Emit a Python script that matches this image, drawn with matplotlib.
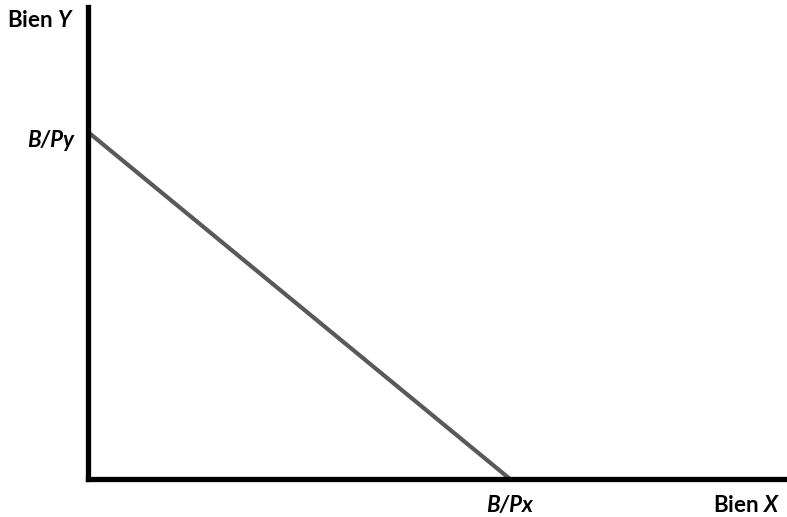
import matplotlib
matplotlib.use("Agg")
from matplotlib import pyplot as plt

# restricción presupuestaria: interceptos
bienes_x = [0, 10]   # de 0 a B/Px
bienes_y = [8, 0]    # de B/Py a 0
etiqueta_px = "B/Px"
etiqueta_py = "B/Py"

plt.rcParams['font.family'] = ['Lato', 'DejaVu Sans']
plt.rcParams['mathtext.fontset'] = 'custom'
plt.rcParams['mathtext.it'] = 'Lato:bold:italic'
plt.rcParams['mathtext.rm'] = 'Lato:bold'

fig = plt.figure(figsize=(7.87, 5.17), dpi=100)
W, H = 787, 517
ax = fig.add_axes([88 / W, (H - 479) / H, (W - 88) / W, (479 - 7) / H])

ax.plot(bienes_x, bienes_y, color='#595959', lw=3, solid_capstyle='butt', clip_on=False)

ax.set_xlim(0, 699 / 422 * 10)
ax.set_ylim(0, 472 / 347 * 8)

for s in ['top', 'right']:
    ax.spines[s].set_visible(False)
for s in ['left', 'bottom']:
    ax.spines[s].set_linewidth(3.8)
    ax.spines[s].set_color('black')
ax.set_xticks([])
ax.set_yticks([])

fs = 16
ax.text(-0.33, 10.56, r'Bien $\mathit{Y}$', ha='right', va='center', fontsize=fs, fontweight='bold', clip_on=False)
ax.text(-0.33, 7.8, etiqueta_py, ha='right', va='center', fontsize=fs, fontweight='bold', fontstyle='italic', clip_on=False)
ax.text(bienes_x[1], -0.62, etiqueta_px, ha='center', va='center', fontsize=fs, fontweight='bold', fontstyle='italic', clip_on=False)
ax.text(16.4, -0.62, r'Bien $\mathit{X}$', ha='right', va='center', fontsize=fs, fontweight='bold', clip_on=False)

fig.savefig('out.png', dpi=100)
